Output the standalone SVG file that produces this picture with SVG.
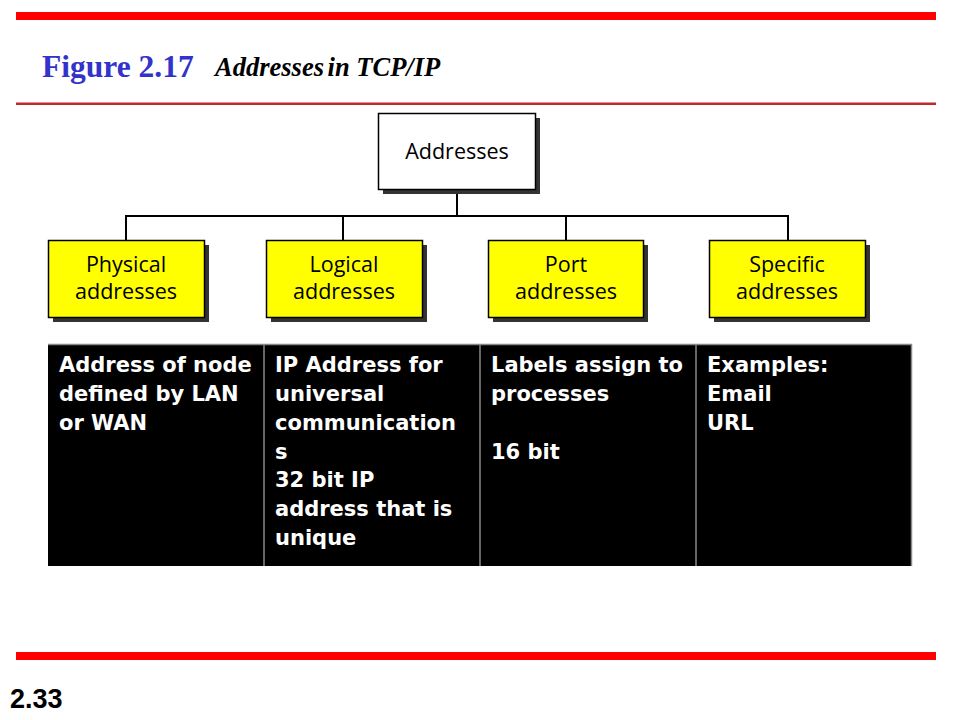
<svg xmlns="http://www.w3.org/2000/svg" width="960" height="720" viewBox="0 0 960 720">
<style>
.bar{fill:#ff0000}
.box{stroke:#000;stroke-width:1.5}
.shadow{fill:#333}
.lbl{font-family:"Open Sans","Liberation Sans",sans-serif;font-size:21.5px;fill:#000;text-anchor:middle}
.cell{font-family:"DejaVu Sans",Verdana,sans-serif;font-weight:bold;font-size:21px;fill:#fff}
.conn{stroke:#000;stroke-width:2;fill:none}
</style>
<rect width="960" height="720" fill="#fff"/>
<rect class="bar" x="16" y="12" width="920" height="8"/>
<rect x="16" y="102.5" width="920" height="2.5" fill="#c0282d"/>
<rect class="bar" x="16" y="652" width="920" height="8"/>
<text x="42" y="77" font-family="Liberation Serif,serif" font-weight="bold" font-size="31.5" fill="#3333cc">Figure 2.17</text>
<text x="215" y="76" font-family="Liberation Serif,serif" font-weight="bold" font-style="italic" font-size="26.5" fill="#000">Addresses<tspan dx="-3"> in TCP/IP</tspan></text>
<text x="10" y="708" font-family="Liberation Sans,Arial,sans-serif" font-weight="bold" font-size="27" fill="#000">2.33</text>
<g id="connectors">
<path class="conn" d="M457 189V216M126 216H788M126 215V240M343 215V240M566 215V240M788 215V240"/>
</g>
<g id="addresses">
<rect class="shadow" x="383" y="118" width="157" height="76"/>
<rect class="box" x="378.5" y="113.5" width="157" height="76" fill="#fff"/>
<text class="lbl" x="457" y="159">Addresses</text>
</g>
<g id="physical">
<rect class="shadow" x="53" y="245" width="156" height="77"/>
<rect class="box" x="48.5" y="240.5" width="156" height="77" fill="#ffff00"/>
<text class="lbl" x="126" y="272">Physical</text>
<text class="lbl" x="126" y="299">addresses</text>
</g>
<g id="logical">
<rect class="shadow" x="271" y="245" width="156" height="77"/>
<rect class="box" x="266.5" y="240.5" width="156" height="77" fill="#ffff00"/>
<text class="lbl" x="344" y="272">Logical</text>
<text class="lbl" x="344" y="299">addresses</text>
</g>
<g id="port">
<rect class="shadow" x="493" y="245" width="155" height="77"/>
<rect class="box" x="488.5" y="240.5" width="155" height="77" fill="#ffff00"/>
<text class="lbl" x="566" y="272">Port</text>
<text class="lbl" x="566" y="299">addresses</text>
</g>
<g id="specific">
<rect class="shadow" x="714" y="245" width="156" height="77"/>
<rect class="box" x="709.5" y="240.5" width="156" height="77" fill="#ffff00"/>
<text class="lbl" x="787" y="272">Specific</text>
<text class="lbl" x="787" y="299">addresses</text>
</g>
<g id="table">
<rect x="48" y="344" width="864" height="222" fill="#000"/>
<path d="M48 344.5H912M264 344V566M480 344V566M696 344V566M911.5 344V566" stroke="#888" stroke-width="1.5" fill="none"/>
<text class="cell" x="59" y="372">Address of node</text>
<text class="cell" x="59" y="401">defined by LAN</text>
<text class="cell" x="59" y="430">or WAN</text>
<text class="cell" x="275" y="372">IP Address for</text>
<text class="cell" x="275" y="401">universal</text>
<text class="cell" x="275" y="430">communication</text>
<text class="cell" x="275" y="459">s</text>
<text class="cell" x="275" y="487">32 bit IP</text>
<text class="cell" x="275" y="516">address that is</text>
<text class="cell" x="275" y="545">unique</text>
<text class="cell" x="491" y="372">Labels assign to</text>
<text class="cell" x="491" y="401">processes</text>
<text class="cell" x="491" y="459">16 bit</text>
<text class="cell" x="707" y="372">Examples:</text>
<text class="cell" x="707" y="401">Email</text>
<text class="cell" x="707" y="430">URL</text>
</g>
</svg>
